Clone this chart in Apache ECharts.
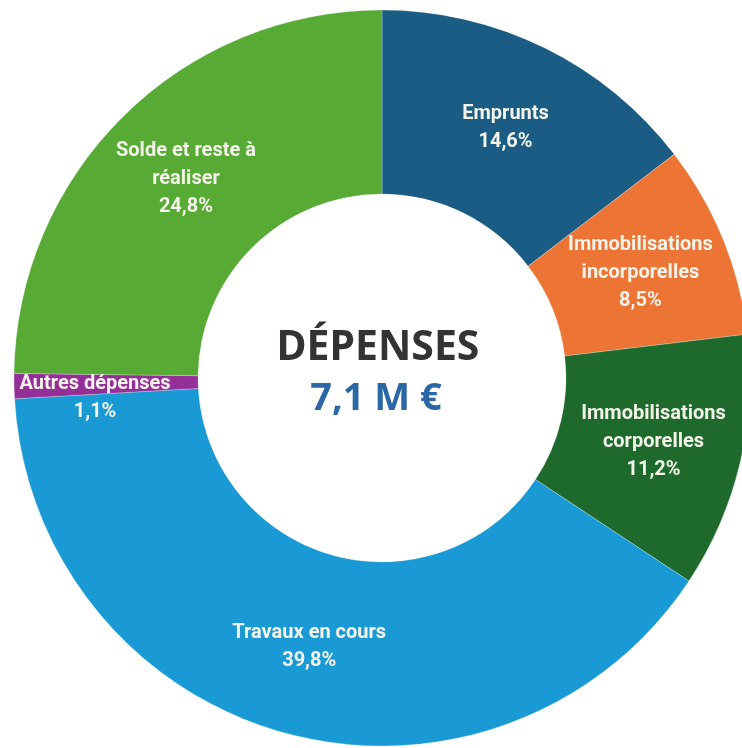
<!DOCTYPE html>
<html>
<head>
<meta charset="utf-8">
<script src="https://cdn.jsdelivr.net/npm/echarts@6/dist/echarts.min.js"></script>
<style>
  html, body { margin: 0; padding: 0; background: #fff; }
  #chart { width: 742px; height: 748px; }
</style>
</head>
<body>
<div id="chart"></div>
<script>
// Répartition des dépenses (part en %), dans le sens horaire depuis midi.
const categories = [
  "Emprunts",
  "Immobilisations\nincorporelles",
  "Immobilisations\ncorporelles",
  "Travaux en cours",
  "Autres dépenses",
  "Solde et reste à\nréaliser"
];
const shares = [14.6, 8.5, 11.2, 39.8, 1.1, 24.8];
const colors = ["#1b5c84", "#ec7535", "#1e6a2c", "#1a9ad5", "#952f98", "#57aa34"];
const centerTitle = "DÉPENSES";
const centerTotal = "7,1 M €";

const fmt = (v) => v.toFixed(1).replace(".", ",") + "%";

const chart = echarts.init(document.getElementById("chart"));
chart.setOption({
  animation: false,
  series: [{
    type: "pie",
    center: [382, 378],
    radius: [184, 368],
    startAngle: 90,
    clockwise: true,
    avoidLabelOverlap: false,
    itemStyle: { borderColor: "rgba(255,255,255,0.25)", borderWidth: 1 },
    label: {
      show: true,
      position: "inside",
      color: "#f3f3ea",
      fontFamily: "Roboto",
      fontWeight: "bold",
      fontSize: 20,
      lineHeight: 28,
      align: "center",
      formatter: (p) => p.name + "\n" + fmt(p.value)
    },
    labelLine: { show: false },
    emphasis: { disabled: true },
    data: categories.map((name, i) => ({
      name,
      value: shares[i],
      itemStyle: { color: colors[i] },
      label: name === "Autres dépenses" ? { offset: [-8, 14] } : undefined
    }))
  }],
  graphic: [
    {
      type: "text",
      x: 378, y: 348,
      style: {
        text: centerTitle,
        fill: "#333333",
        font: "bold 41px 'Noto Sans'",
        align: "center",
        verticalAlign: "middle"
      }
    },
    {
      type: "text",
      x: 376, y: 399,
      style: {
        text: centerTotal,
        fill: "#2b67a4",
        font: "bold 38px 'Noto Sans'",
        align: "center",
        verticalAlign: "middle"
      }
    }
  ]
});
</script>
</body>
</html>
